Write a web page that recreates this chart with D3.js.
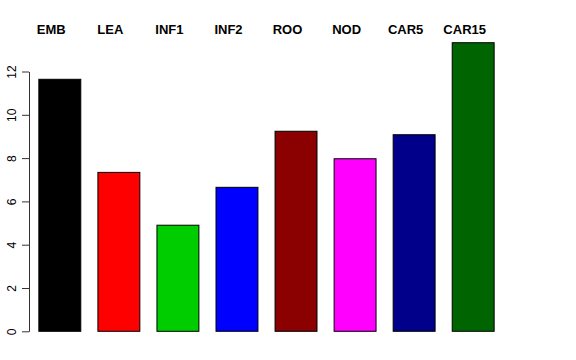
<!doctype html>
<html>
<head>
    <style>
        body { margin: 0; background: #fff; }
        .bar { stroke: #000; stroke-width: 1; }
        text { font-family: "Liberation Sans", Arial, sans-serif; }
    </style>
    <script src="https://d3js.org/d3.v7.min.js"></script>
</head>
<body>
<svg width="576" height="360"></svg>
<script>
var categories = ["EMB", "LEA", "INF1", "INF2", "ROO", "NOD", "CAR5", "CAR15"];
var values = [11.64, 7.34, 4.90, 6.65, 9.24, 7.97, 9.08, 13.33];
var colors = ["#000000", "#ff0000", "#00cd00", "#0000ff", "#8b0000", "#ff00ff", "#00008b", "#006400"];
var yTicks = [0, 2, 4, 6, 8, 10, 12];

var svg = d3.select("svg");

var xScale = d3.scaleBand()
    .domain(categories)
    .range([29.2, 502.8])
    .paddingInner(0.29)
    .paddingOuter(0.155);

var yScale = d3.scaleLinear()
    .domain([0, 12])
    .range([331.3, 71.5]);

// y axis, labels rotated like R's default
var yAxis = svg.append("g")
    .attr("transform", "translate(29,0)")
    .call(d3.axisLeft(yScale).tickValues(yTicks).tickSize(7).tickSizeOuter(0));
yAxis.select(".domain").attr("stroke", "#333");
yAxis.selectAll(".tick line").attr("stroke", "#333");
yAxis.selectAll(".tick text")
    .attr("font-size", 12)
    .attr("fill", "#000")
    .attr("x", -17)
    .attr("y", 0)
    .attr("dy", "0.35em")
    .attr("text-anchor", "middle")
    .attr("transform", "rotate(-90,-17,0)");

// bars
svg.selectAll(".bar")
    .data(categories)
    .enter().append("rect")
    .attr("class", "bar")
    .attr("x", function(d) { return xScale(d) + 0.5; })
    .attr("y", function(d, i) { return yScale(values[i]); })
    .attr("width", xScale.bandwidth())
    .attr("height", function(d, i) { return yScale(0) - yScale(values[i]); })
    .attr("fill", function(d, i) { return colors[i]; });

// category labels on top
svg.selectAll(".cat")
    .data(categories)
    .enter().append("text")
    .attr("class", "cat")
    .attr("x", function(d) { return xScale(d) + xScale.bandwidth() / 2 - 8; })
    .attr("y", 34)
    .attr("text-anchor", "middle")
    .attr("font-size", 13)
    .attr("font-weight", "bold")
    .text(function(d) { return d; });
</script>
</body>
</html>
